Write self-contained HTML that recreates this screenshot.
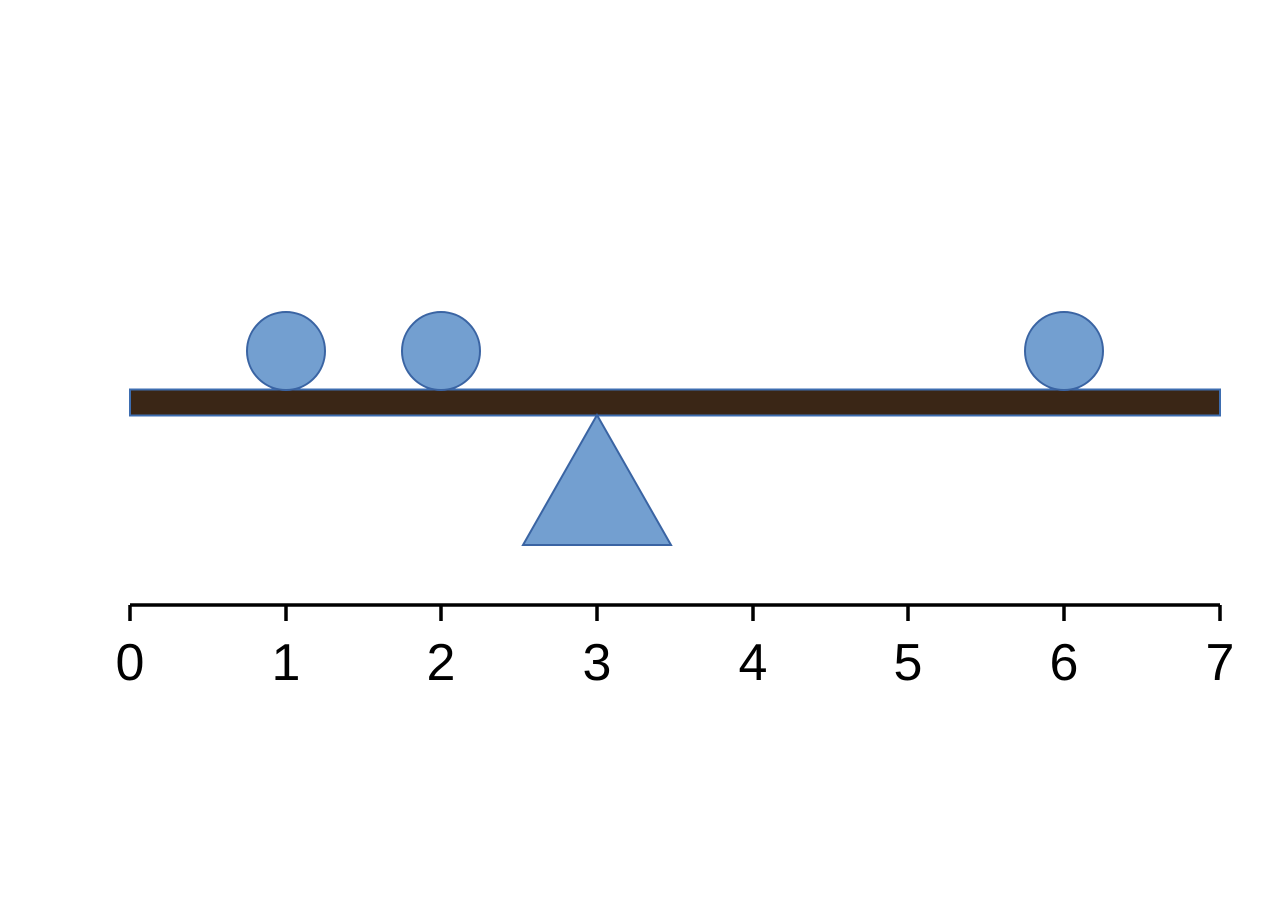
<!DOCTYPE html>
<html><head><style>html,body{margin:0;padding:0;background:#fff;}</style></head>
<body>
<svg width="1280" height="909" viewBox="0 0 1280 909" xmlns="http://www.w3.org/2000/svg">
<rect width="1280" height="909" fill="#fff"/>
<rect x="130" y="389.5" width="1090" height="26" fill="#3a2616" stroke="#3d6db0" stroke-width="2"/>
<g fill="#739fd0" stroke="#3a64a3" stroke-width="2">
<circle cx="286" cy="351" r="39"/>
<circle cx="441" cy="351" r="39"/>
<circle cx="1064" cy="351" r="39"/>
<polygon points="597,415 523,545 671,545"/>
</g>
<g stroke="#000" stroke-width="3.5" fill="none">
<line x1="130" y1="605" x2="1220" y2="605"/>
<line x1="130" y1="605" x2="130" y2="621"/>
<line x1="286" y1="605" x2="286" y2="621"/>
<line x1="441" y1="605" x2="441" y2="621"/>
<line x1="597" y1="605" x2="597" y2="621"/>
<line x1="753" y1="605" x2="753" y2="621"/>
<line x1="908" y1="605" x2="908" y2="621"/>
<line x1="1064" y1="605" x2="1064" y2="621"/>
<line x1="1220" y1="605" x2="1220" y2="621"/>
</g>
<g font-family="Liberation Sans, sans-serif" font-size="52" text-anchor="middle" fill="#000">
<text x="130" y="680">0</text>
<text x="286" y="680">1</text>
<text x="441" y="680">2</text>
<text x="597" y="680">3</text>
<text x="753" y="680">4</text>
<text x="908" y="680">5</text>
<text x="1064" y="680">6</text>
<text x="1220" y="680">7</text>
</g>
</svg>
</body></html>
